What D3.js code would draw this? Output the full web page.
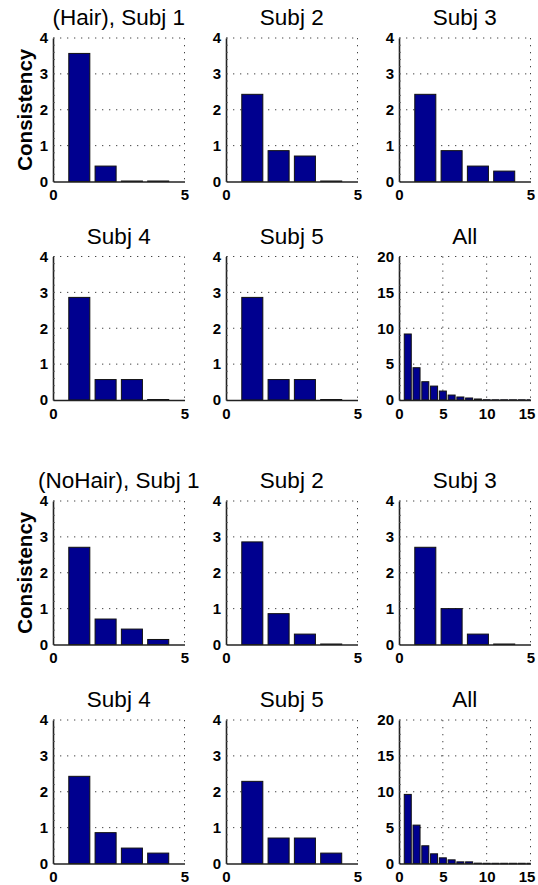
<!DOCTYPE html>
<html><head><meta charset="utf-8">
<script src="https://cdn.jsdelivr.net/npm/d3@7"></script>
<style>
html,body{margin:0;padding:0;background:#fff;}
svg{display:block;font-family:"Liberation Sans",Arial,sans-serif;}
.tk text{font-size:15px;font-weight:bold;font-family:"Liberation Sans",Arial,sans-serif;fill:#000;}
</style></head>
<body>
<svg id="c" width="538" height="885"></svg>
<script>
// ---- data ----
const titles = [
  "(Hair), Subj 1", "Subj 2", "Subj 3",
  "Subj 4", "Subj 5", "All",
  "(NoHair), Subj 1", "Subj 2", "Subj 3",
  "Subj 4", "Subj 5", "All"
];
const hairS1 = [3.57, 0.43, 0, 0];
const hairS2 = [2.43, 0.86, 0.71, 0];
const hairS3 = [2.43, 0.86, 0.43, 0.29];
const hairS4 = [2.86, 0.57, 0.57, 0];
const hairS5 = [2.86, 0.57, 0.57, 0];
const hairAll = [9.2, 4.5, 2.55, 1.94, 1.25, 0.69, 0.42, 0.28, 0.14, 0.04, 0.03, 0.03, 0.03, 0.03, 0.03];
const noHairS1 = [2.71, 0.71, 0.43, 0.14];
const noHairS2 = [2.86, 0.86, 0.29, 0];
const noHairS3 = [2.71, 1.0, 0.29, 0];
const noHairS4 = [2.43, 0.86, 0.43, 0.29];
const noHairS5 = [2.29, 0.71, 0.71, 0.29];
const noHairAll = [9.63, 5.35, 2.47, 1.35, 0.79, 0.51, 0.23, 0.23, 0.05, 0.03, 0.03, 0.03, 0.03, 0.03, 0.03];
const subjXTicks = [0, 5];
const subjYTicks = [0, 1, 2, 3, 4];
const allXTicks = [0, 5, 10, 15];
const allYTicks = [0, 5, 10, 15, 20];

const panels = [hairS1, hairS2, hairS3, hairS4, hairS5, hairAll,
                noHairS1, noHairS2, noHairS3, noHairS4, noHairS5, noHairAll];

// ---- layout ----
const colX = [53, 226, 399];
const rowY = [38, 256.5, 501, 720];
const W = 131.5, H = 143.5;

const svg = d3.select("#c");
const defs = svg.append("defs");

panels.forEach((vals, i) => {
  const r = Math.floor(i / 3), c = i % 3;
  const isAll = (c === 2 && (r === 1 || r === 3));
  const xMax = isAll ? 15 : 5, yMax = isAll ? 20 : 4;
  const xt = isAll ? allXTicks : subjXTicks;
  const yt = isAll ? allYTicks : subjYTicks;
  const x = d3.scaleLinear().domain([0, xMax]).range([0, W]);
  const y = d3.scaleLinear().domain([0, yMax]).range([H, 0]);
  const g = svg.append("g").attr("transform", `translate(${colX[c]},${rowY[r]})`);

  defs.append("clipPath").attr("id", "cp" + i)
    .append("rect").attr("x", 0).attr("y", -2).attr("width", W).attr("height", H + 4);

  // grid
  const grid = g.append("g").attr("stroke", "#444").attr("stroke-width", 1)
    .attr("stroke-dasharray", "1.3,5.7").attr("fill", "none");
  yt.filter(v => v > 0).forEach(v => {
    grid.append("line").attr("x1", 0).attr("x2", W).attr("y1", y(v)).attr("y2", y(v));
  });
  xt.filter(v => v > 0).forEach(v => {
    grid.append("line").attr("x1", x(v)).attr("x2", x(v)).attr("y1", 0).attr("y2", H);
  });

  // bars
  g.append("g").attr("clip-path", `url(#cp${i})`)
    .selectAll("rect").data(vals).join("rect")
    .attr("x", (d, k) => x(k + 1 - 0.4))
    .attr("width", x(0.8) - x(0))
    .attr("y", d => y(d) - (d === 0 ? 0.5 : 0))
    .attr("height", d => Math.max(y(0) - y(d), 0.5))
    .attr("fill", "rgb(0,0,143)")
    .attr("stroke", "#111").attr("stroke-width", 1);

  // axes
  const yAxis = d3.axisLeft(y).tickValues(yt).tickSize(0).tickPadding(5).tickFormat(d3.format("d"));
  const ya = g.append("g").attr("class", "tk").call(yAxis);
  ya.attr("font-size", null);
  ya.select(".domain").attr("stroke", "#222").attr("stroke-width", 1.6);

  // minor ticks on y axis (inward)
  const minorStep = isAll ? 1 : 0.2;
  const minor = d3.range(0, yMax + 1e-9, minorStep);
  g.append("g").selectAll("line").data(minor).join("line")
    .attr("x1", 0).attr("x2", 2).attr("y1", d => y(d)).attr("y2", d => y(d))
    .attr("stroke", "#555").attr("stroke-width", 0.8);

  const xAxis = d3.axisBottom(x).tickValues(xt).tickSize(0).tickPadding(8).tickFormat(d3.format("d"));
  const xa = g.append("g").attr("class", "tk").attr("transform", `translate(0,${H})`).call(xAxis);
  xa.attr("font-size", null);
  xa.select(".domain").attr("stroke", "#222").attr("stroke-width", 1.6);
  if (isAll) {
    // keep the last label inside the figure, as in the original
    xa.selectAll(".tick text").filter(d => d === xMax).attr("dx", -4);
  }

  // title
  g.append("text").attr("x", W / 2).attr("y", -13).attr("text-anchor", "middle")
    .style("font-size", "22.5px").attr("fill", "#000").text(titles[i]);

  // y label
  if (c === 0 && (r === 0 || r === 2)) {
    g.append("text")
      .attr("transform", `translate(-21,${H / 2}) rotate(-90)`)
      .attr("text-anchor", "middle").style("font-size", "20.5px").style("font-weight", "bold")
      .attr("fill", "#000").text("Consistency");
  }
});
</script>
</body></html>
